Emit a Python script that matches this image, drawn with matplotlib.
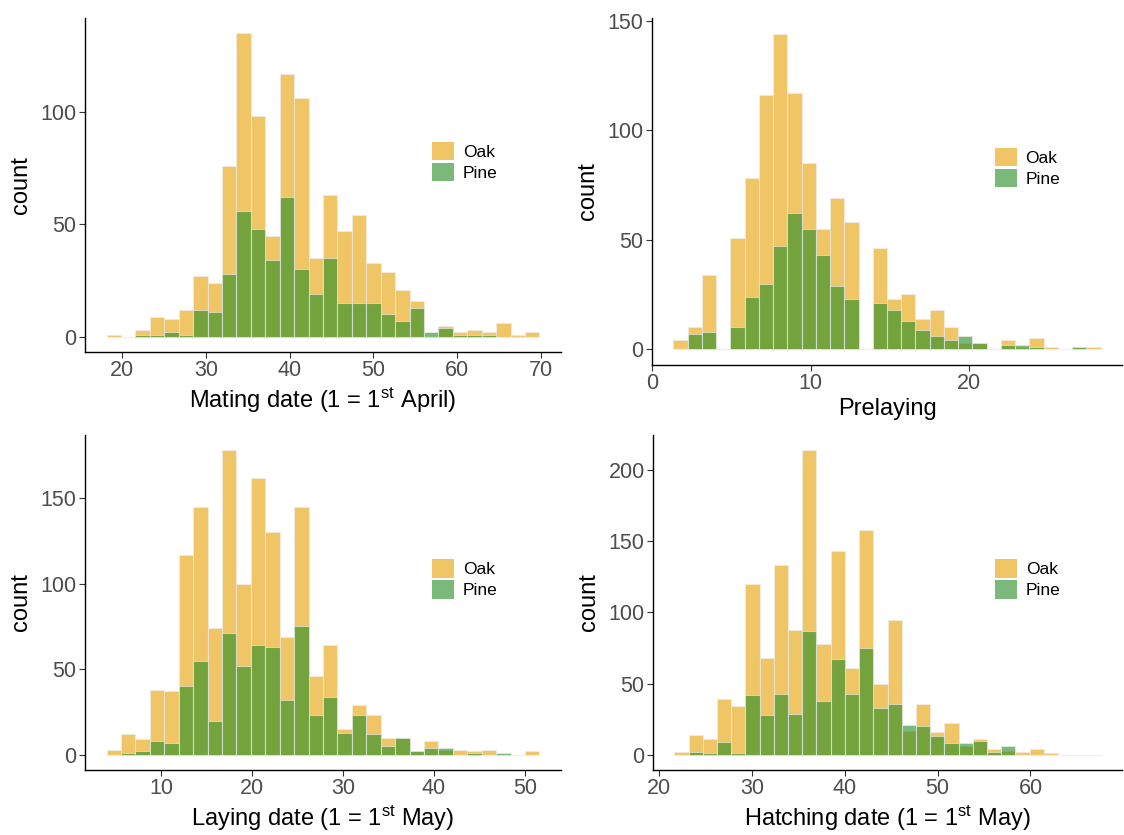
import numpy as np
import matplotlib
matplotlib.use('Agg')
import matplotlib.pyplot as plt
from matplotlib.patches import Patch

plt.rcParams['font.family'] = ['Liberation Sans', 'DejaVu Sans']
plt.rcParams['mathtext.default'] = 'regular'

# bin centres of first and last bin (30 bins each, ggplot style)
mating_span = (19.0, 69.0)
prelay_span = (1.78, 27.85)
laying_span = (4.8, 50.8)
hatch_span = (22.4, 66.8)

# counts per bin
mating_oak = [1, 0, 3, 9, 8, 12, 27, 24, 76, 135, 98, 45, 117, 106, 35,
              63, 47, 54, 33, 29, 21, 16, 0, 5, 2, 3, 2, 6, 1, 2]
mating_pine = [0, 0, 1, 1, 2, 1, 12, 11, 28, 56, 48, 34, 62, 30, 19,
               35, 15, 15, 15, 10, 7, 13, 2, 4, 1, 1, 1, 0, 0, 0]

prelay_oak = [4, 10, 34, 0, 51, 78, 116, 144, 117, 85, 55, 69, 58, 0, 46,
              23, 25, 14, 18, 10, 3, 3, 0, 4, 1, 5, 1, 0, 1, 1]
prelay_pine = [0, 7, 8, 0, 10, 24, 30, 47, 62, 55, 43, 29, 23, 0, 21,
               18, 13, 9, 6, 4, 6, 3, 0, 2, 2, 1, 0, 0, 1, 0]

laying_oak = [3, 12, 9, 38, 37, 117, 145, 74, 178, 100, 162, 130, 69, 145, 46,
              64, 15, 29, 23, 10, 10, 2, 8, 3, 3, 2, 3, 0, 0, 2]
laying_pine = [0, 1, 2, 8, 7, 40, 55, 20, 71, 52, 64, 63, 32, 75, 23,
               34, 13, 23, 12, 5, 10, 2, 4, 4, 0, 1, 0, 1, 0, 0]

hatch_oak = [2, 14, 11, 39, 34, 120, 68, 133, 88, 214, 78, 143, 61, 158, 50,
             95, 17, 36, 16, 22, 6, 11, 4, 3, 2, 4, 1, 0, 0, 0]
hatch_pine = [0, 2, 1, 9, 1, 42, 28, 43, 29, 87, 38, 67, 43, 75, 33,
              36, 21, 20, 13, 8, 8, 10, 2, 6, 0, 0, 0, 0, 0, 0]

panels = [
    (mating_span, mating_oak, mating_pine, [0, 50, 100], [20, 30, 40, 50, 60, 70],
     'Mating date (1 = 1$^{st}$ April)'),
    (prelay_span, prelay_oak, prelay_pine, [0, 50, 100, 150], [0, 10, 20],
     'Prelaying'),
    (laying_span, laying_oak, laying_pine, [0, 50, 100, 150], [10, 20, 30, 40, 50],
     'Laying date (1 = 1$^{st}$ May)'),
    (hatch_span, hatch_oak, hatch_pine, [0, 50, 100, 150, 200], [20, 30, 40, 50, 60],
     'Hatching date (1 = 1$^{st}$ May)'),
]

oak_col = '#E69F00'
pine_col = 'forestgreen'
alpha = 0.6

W, H = 1124, 835
fig = plt.figure(figsize=(W / 100, H / 100), dpi=100)

# axes boxes in pixels: left, top, right, bottom
boxes = [(85, 18, 561, 352), (652, 18, 1122, 365),
         (85, 435, 561, 770), (653, 435, 1122, 770)]

for (span, oak, pine, yt, xt, xlab), (l, t, r, b) in zip(panels, boxes):
    ax = fig.add_axes([l / W, 1 - b / H, (r - l) / W, (b - t) / H])
    n = len(oak)
    w = (span[1] - span[0]) / (n - 1)
    centers = span[0] + w * np.arange(n)
    ax.bar(centers, oak, width=w, color=oak_col, alpha=alpha,
           edgecolor='#eeeeee', linewidth=0.8)
    ax.bar(centers, pine, width=w, color=pine_col, alpha=alpha,
           edgecolor='#eeeeee', linewidth=0.8)

    lo, hi = centers[0] - w / 2, centers[-1] + w / 2
    pad = 0.05 * (hi - lo)
    ax.set_xlim(lo - pad, hi + pad)
    top = max(max(oak), max(pine))
    ax.set_ylim(-0.05 * top, 1.05 * top)

    ax.set_xticks(xt)
    ax.set_yticks(yt)
    ax.tick_params(labelsize=15.5, labelcolor='#4D4D4D', length=4, width=0.8,
                   color='#333333', pad=2)
    for s in ['top', 'right']:
        ax.spines[s].set_visible(False)
    for s in ['left', 'bottom']:
        ax.spines[s].set_linewidth(1.0)
        ax.spines[s].set_color('black')

    ax.set_xlabel(xlab, fontsize=17, labelpad=3)
    ax.set_ylabel('count', fontsize=17, labelpad=6)

    handles = [Patch(facecolor=oak_col, alpha=alpha, edgecolor='none', label='Oak'),
               Patch(facecolor=pine_col, alpha=alpha, edgecolor='none', label='Pine')]
    ax.legend(handles=handles, loc='center left', bbox_to_anchor=(0.715, 0.57),
              frameon=False, fontsize=12.5, handlelength=1.25, handleheight=1.25,
              labelspacing=0.15, handletextpad=0.5, borderaxespad=0)

fig.savefig('out.png', dpi=100, facecolor='white')
